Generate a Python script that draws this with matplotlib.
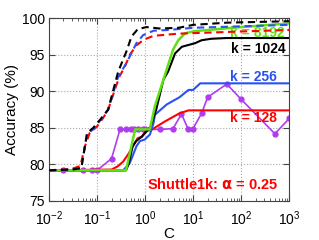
import matplotlib
matplotlib.use("Agg")
import matplotlib.pyplot as plt
from matplotlib.ticker import LogLocator, NullFormatter

plt.rcParams['font.family'] = ['Liberation Sans', 'DejaVu Sans']
plt.rcParams['mathtext.fontset'] = 'custom'
plt.rcParams['mathtext.rm'] = 'Liberation Sans'

# ---- data ----
# dashed curves
C_d128 = [0.01, 0.03, 0.045, 0.056, 0.07, 0.1, 0.135, 0.17, 0.21, 0.29, 0.38, 0.48, 0.66, 0.95, 1.5, 5, 14, 100, 1000]
A_d128 = [79.2, 79.4, 79.8, 82.5, 84.3, 85.2, 86.4, 87.5, 89.3, 92.0, 93.4, 95.0, 96.3, 97.1, 97.6, 97.9, 98.0, 98.2, 98.4]
C_d256 = [0.01, 0.03, 0.047, 0.062, 0.083, 0.115, 0.17, 0.21, 0.275, 0.41, 0.66, 0.91, 1.5, 3, 10, 100, 1000]
A_d256 = [79.2, 79.3, 79.5, 84.2, 84.8, 86.0, 87.5, 89.5, 92.0, 93.9, 96.6, 97.7, 98.3, 98.4, 98.7, 98.9, 99.1]
C_d1024 = [0.01, 0.03, 0.047, 0.062, 0.083, 0.115, 0.17, 0.21, 0.275, 0.41, 0.52, 0.7, 1.07, 2, 5, 10, 50, 1000]
A_d1024 = [79.2, 79.3, 79.5, 84.3, 85.0, 86.1, 87.5, 89.8, 92.7, 95.5, 97.5, 98.5, 98.8, 98.6, 98.7, 99.1, 99.4, 99.6]

# solid curves
C_s128 = [0.01, 0.2, 0.27, 0.35, 0.44, 0.56, 0.7, 0.86, 1.0, 1.4, 2.6, 5.2, 8, 1000]
A_s128 = [79.2, 79.3, 79.75, 80.4, 81.35, 82.5, 83.6, 83.8, 84.5, 84.8, 85.9, 87.0, 87.4, 87.4]
C_s256 = [0.01, 0.35, 0.48, 0.56, 0.66, 0.78, 0.98, 1.26, 1.5, 1.6, 2.8, 5.2, 8, 10, 14, 1000]
A_s256 = [79.2, 79.2, 80.2, 81.3, 82.5, 83.2, 83.4, 84.1, 85.7, 86.8, 88.2, 89.2, 90.2, 90.2, 91.1, 91.1]
C_s1024 = [0.01, 0.4, 0.45, 0.55, 0.65, 0.85, 1.0, 1.3, 1.7, 2.4, 3.0, 4.2, 5.8, 8.5, 11, 15, 24, 50, 1000]
A_s1024 = [79.2, 79.2, 80.0, 82.5, 83.2, 83.8, 84.3, 85.2, 87.5, 91.6, 92.7, 95.2, 96.1, 96.4, 96.6, 97.0, 97.2, 97.3, 97.3]
C_s8192 = [0.01, 0.4, 0.62, 1.25, 1.6, 2.4, 3.8, 4.9, 6.8, 11, 100, 1000]
A_s8192 = [79.2, 79.2, 84.8, 84.8, 88.0, 91.6, 95.7, 97.0, 97.95, 98.25, 98.8, 99.3]

# purple marker curve
C_p = [0.02, 0.05, 0.08, 0.1, 0.2, 0.3, 0.4, 0.5, 0.6, 0.7, 0.9, 1, 2, 3.8, 5.7, 7.9, 9.7, 15, 20, 50, 100, 500, 1000]
A_p = [79.2, 79.2, 79.2, 79.2, 80.8, 84.8, 84.8, 84.8, 84.8, 84.8, 84.8, 84.8, 84.8, 84.9, 86.9, 84.8, 84.8, 87.0, 89.2, 91.0, 88.9, 84.2, 86.3]

labels = ['k = 8192', 'k = 1024', 'k = 256', 'k = 128']
title_text = r'Shuttle1k: $\mathbf{\alpha}$ = 0.25'

RED = '#ff0000'
BLUE = '#2a52f0'
BLACK = '#000000'
GREEN = '#5fe00f'
PURPLE = '#b03cf0'

fig = plt.figure(figsize=(3.19, 2.40), dpi=100)
ax = fig.add_axes([0.1536, 0.1625, 0.7534, 0.7613])

ax.plot(C_p, A_p, '-', color=PURPLE, lw=1.2, marker='o', ms=3.5, mec=PURPLE, mfc=PURPLE, zorder=2)
ax.plot(C_s128, A_s128, '-', color=RED, lw=1.5, zorder=3)
ax.plot(C_s256, A_s256, '-', color=BLUE, lw=1.5, zorder=3)
ax.plot(C_s1024, A_s1024, '-', color=BLACK, lw=1.5, zorder=3)
ax.plot(C_s8192, A_s8192, '-', color=GREEN, lw=1.8, zorder=4)
dash = (3.5, 2.2)
ax.plot(C_d128, A_d128, '--', color=RED, lw=1.5, dashes=dash, zorder=5)
ax.plot(C_d256, A_d256, '--', color=BLUE, lw=1.5, dashes=dash, zorder=5)
ax.plot(C_d1024, A_d1024, '--', color=BLACK, lw=1.5, dashes=dash, zorder=6)

ax.set_xscale('log')
ax.set_xlim(1e-2, 1e3)
ax.set_ylim(75, 100)
ax.set_yticks([75, 80, 85, 90, 95, 100])
ax.xaxis.set_major_locator(LogLocator(base=10, numticks=10))
ax.xaxis.set_minor_locator(LogLocator(base=10, subs=range(2, 10), numticks=100))
ax.xaxis.set_minor_formatter(NullFormatter())
ax.tick_params(direction='in', which='both', top=True, right=True, labelsize=10,
               color='#444444')
ax.tick_params(axis='x', pad=6)
ax.tick_params(axis='y', pad=3)
ax.tick_params(which='major', length=4)
ax.tick_params(which='minor', length=2)
ax.grid(True, which='major', linestyle=':', color='#aaaaaa', lw=0.8)
for s in ax.spines.values():
    s.set_color('#444444')
    s.set_linewidth(0.8)

ax.set_xlabel('C', fontsize=11, labelpad=-1)
ax.set_ylabel('Accuracy (%)', fontsize=11, labelpad=2)

tk = dict(fontsize=10, fontweight='bold', ha='left', va='center')
ax.text(58, 98.0, labels[0], color=GREEN, **tk)
ax.text(60, 95.8, labels[1], color=BLACK, **tk)
ax.text(57, 91.9, labels[2], color=BLUE, **tk)
ax.text(58, 86.4, labels[3], color=RED, **tk)
ax.text(1.1, 77.2, title_text, color=RED, fontsize=10.5, fontweight='bold', ha='left', va='center')

fig.savefig('out.png', dpi=100)
